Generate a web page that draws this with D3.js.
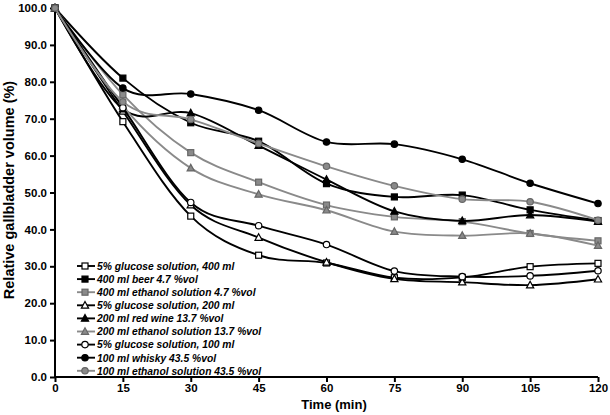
<!DOCTYPE html>
<html>
<head>
<meta charset="utf-8">
<script src="https://cdn.jsdelivr.net/npm/d3@7"></script>
<style>
  body { margin: 0; background: #fff; }
  svg { font-family: Arial, "Liberation Sans", sans-serif; }
</style>
</head>
<body>
<svg id="chart" width="610" height="415"></svg>
<script>
// time points (min)
var times = [0, 15, 30, 45, 60, 75, 90, 105, 120];
var yTicks = [0, 10, 20, 30, 40, 50, 60, 70, 80, 90, 100];

var names = [
    "5% glucose solution, 400 ml",
    "400 ml beer 4.7 %vol",
    "400 ml ethanol solution 4.7 %vol",
    "5% glucose solution, 200 ml",
    "200 ml red wine 13.7 %vol",
    "200 ml ethanol solution 13.7 %vol",
    "5% glucose solution, 100 ml",
    "100 ml whisky 43.5 %vol",
    "100 ml ethanol solution 43.5 %vol"
];

var glucose400 = [100, 69.2, 43.6, 33.0, 30.9, 26.9, 27.0, 29.9, 30.8];
var beer400 = [100, 81.0, 68.9, 63.9, 52.4, 48.8, 49.3, 45.3, 42.4];
var ethanol47 = [100, 76.5, 60.8, 52.8, 46.6, 43.4, 42.1, 38.9, 36.9];
var glucose200 = [100, 72.0, 46.6, 37.8, 31.1, 26.6, 25.7, 24.9, 26.5];
var redWine = [100, 72.6, 71.5, 62.7, 53.5, 44.9, 42.3, 43.9, 42.1];
var ethanol137 = [100, 73.4, 56.6, 49.5, 45.2, 39.4, 38.3, 38.9, 35.6];
var glucose100 = [100, 73.0, 47.3, 41.0, 35.9, 28.7, 27.2, 27.4, 28.8];
var whisky = [100, 78.3, 76.7, 72.3, 63.7, 63.1, 59.0, 52.5, 47.0];
var ethanol435 = [100, 74.6, 69.8, 63.3, 57.1, 51.8, 48.2, 47.5, 42.5];

var allValues = [glucose400, beer400, ethanol47, glucose200, redWine,
    ethanol137, glucose100, whisky, ethanol435];
var shapes = ["square", "square", "square", "triangle", "triangle", "triangle",
    "circle", "circle", "circle"];
var kinds = ["open", "black", "gray", "open", "black", "gray", "open", "black", "gray"];

var svg = d3.select("#chart");
var margin = { left: 55, top: 8, right: 12, bottom: 38 };
var width = 598 - margin.left;
var height = 377 - margin.top;

var x = d3.scaleLinear().domain([0, 120]).range([margin.left, margin.left + width]);
var y = d3.scaleLinear().domain([0, 100]).range([margin.top + height, margin.top]);

function lineColor(k) {
    return k == "gray" ? "#8a8a8a" : "#000";
}
function markerFill(k) {
    if (k == "open") return "#fff";
    if (k == "gray") return "#8a8a8a";
    return "#000";
}
function markerStroke(k) {
    return k == "gray" ? "#666" : "#000";
}

function drawMarker(g, shape, kind, cx, cy) {
    var el;
    if (shape == "square") {
        el = g.append("rect")
            .attr("x", cx - 3).attr("y", cy - 3)
            .attr("width", 6).attr("height", 6);
    } else if (shape == "triangle") {
        el = g.append("path")
            .attr("d", "M" + cx + "," + (cy - 3.8) + "L" + (cx + 3.6) + "," + (cy + 2.8) +
                "L" + (cx - 3.6) + "," + (cy + 2.8) + "Z");
    } else {
        el = g.append("circle").attr("cx", cx).attr("cy", cy).attr("r", 3.2);
    }
    el.attr("fill", markerFill(kind))
        .attr("stroke", markerStroke(kind))
        .attr("stroke-width", 1.2);
}

// axes
var xAxis = d3.axisBottom(x).tickValues(times).tickSize(5).tickFormat(d3.format("d"));
var yAxis = d3.axisLeft(y).tickValues(yTicks).tickSize(5).tickFormat(d3.format(".1f"));

var gx = svg.append("g")
    .attr("transform", "translate(0," + (margin.top + height) + ")")
    .call(xAxis);
var gy = svg.append("g")
    .attr("transform", "translate(" + margin.left + ",0)")
    .call(yAxis);

[gx, gy].forEach(function (g) {
    g.select(".domain").attr("stroke", "#000").attr("stroke-width", 2);
    g.selectAll(".tick line").attr("stroke", "#000").attr("stroke-width", 2);
    g.selectAll(".tick text")
        .attr("fill", "#000")
        .style("font-size", "11.5px")
        .style("font-weight", "bold");
});
gx.select(".domain").attr("d", "M" + margin.left + ",0H" + (margin.left + width));
gy.select(".domain").attr("d", "M0," + (margin.top + height) + "V" + margin.top);
gx.selectAll(".tick text").attr("y", 7).attr("dy", "0.71em");
gy.selectAll(".tick text").attr("x", -8);

svg.append("text")
    .attr("x", 334)
    .attr("y", 409)
    .attr("text-anchor", "middle")
    .style("font-size", "13px")
    .style("font-weight", "bold")
    .text("Time (min)");

svg.append("text")
    .attr("transform", "translate(14,190) rotate(-90)")
    .attr("text-anchor", "middle")
    .style("font-size", "14.5px")
    .style("font-weight", "bold")
    .text("Relative gallbladder volume (%)");

// series
var line = d3.line()
    .x(function (d, i) { return x(times[i]); })
    .y(function (d) { return y(d); })
    .curve(d3.curveCardinal);

for (var i = 0; i < allValues.length; i++) {
    var g = svg.append("g");
    g.append("path")
        .attr("d", line(allValues[i]))
        .attr("fill", "none")
        .attr("stroke", lineColor(kinds[i]))
        .attr("stroke-width", 1.9);
    for (var j = 0; j < times.length; j++) {
        drawMarker(g, shapes[i], kinds[i], x(times[j]), y(allValues[i][j]));
    }
}

// legend
var legend = svg.append("g");
for (var i = 0; i < names.length; i++) {
    var ly = 266 + i * 13.1;
    legend.append("line")
        .attr("x1", 77).attr("x2", 95)
        .attr("y1", ly).attr("y2", ly)
        .attr("stroke", lineColor(kinds[i]))
        .attr("stroke-width", 1.9);
    drawMarker(legend, shapes[i], kinds[i], 85, ly);
    legend.append("text")
        .attr("x", 97)
        .attr("y", ly + 3.8)
        .style("font-size", "10.3px")
        .style("font-weight", "bold")
        .style("font-style", "italic")
        .text(names[i]);
}
</script>
</body>
</html>
